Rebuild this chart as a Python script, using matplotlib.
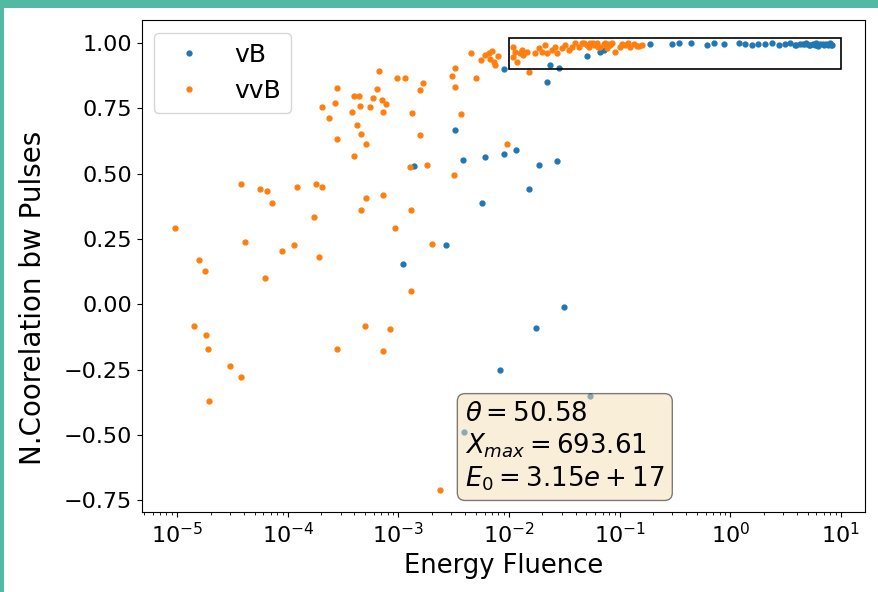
import matplotlib
matplotlib.use("Agg")
import matplotlib.pyplot as plt
import matplotlib.patches as patches

# correlation between pulses vs energy fluence, two polarisations
vb_fluence = [1.11e-3, 1.37e-3, 2.70e-3, 3.28e-3, 3.80e-3, 3.92e-3, 5.73e-3, 6.05e-3, 8.32e-3, 9.05e-3,
              9.05e-3, 0.0115, 0.0150, 0.0177, 0.0188, 0.0271, 0.0311, 0.0542, 0.0220, 0.0236,
              0.0281, 0.0506, 0.0668, 0.0715, 0.189, 0.297, 0.341, 0.442, 0.616, 0.706,
              0.883, 1.19, 1.37, 1.58, 1.79, 2.07, 2.40, 2.77, 3.14, 3.49,
              3.87, 4.29, 4.58, 4.87, 5.29, 5.62, 5.99, 6.51, 6.93, 7.38,
              8.01, 8.36, 3.95, 4.70, 5.10, 5.80, 6.20, 7.10, 7.70, 8.20]
vb_corr = [0.153, 0.529, 0.228, 0.667, 0.554, -0.490, 0.386, 0.564, -0.253, 0.574,
           0.900, 0.589, 0.440, -0.090, 0.534, 0.549, -0.011, -0.350, 0.852, 0.918,
           0.905, 0.950, 0.967, 0.973, 0.995, 0.995, 0.999, 0.999, 0.992, 0.999,
           0.996, 0.999, 0.995, 0.992, 0.998, 0.996, 0.999, 0.993, 0.997, 0.999,
           0.994, 0.998, 0.996, 0.999, 0.993, 0.997, 0.999, 0.995, 0.998, 0.996,
           0.999, 0.994, 0.992, 0.995, 0.991, 0.994, 0.990, 0.993, 0.991, 0.992]

vvb_fluence = [9.5e-6, 1.43e-5, 1.59e-5, 1.78e-5, 1.83e-5, 1.88e-5, 1.92e-5, 3.01e-5, 3.77e-5, 3.79e-5,
               4.06e-5, 5.62e-5, 6.47e-5, 6.28e-5, 7.18e-5, 8.95e-5, 1.14e-4, 1.22e-4, 1.73e-4, 1.80e-4,
               1.90e-4, 2.05e-4, 2.05e-4, 2.36e-4, 2.67e-4, 2.81e-4, 2.80e-4, 2.76e-4, 3.77e-4, 3.98e-4,
               4.36e-4, 3.98e-4, 4.22e-4, 4.45e-4, 4.58e-4, 4.58e-4, 4.98e-4, 5.08e-4, 5.12e-4, 5.48e-4,
               5.88e-4, 6.39e-4, 6.67e-4, 7.03e-4, 7.24e-4, 7.24e-4, 7.24e-4, 7.71e-4, 8.31e-4, 9.23e-4,
               9.69e-4, 1.15e-3, 1.26e-3, 1.31e-3, 1.31e-3, 1.34e-3, 1.57e-3, 1.57e-3, 1.67e-3, 1.80e-3,
               2.01e-3, 2.36e-3, 3.15e-3, 3.08e-3, 3.27e-3, 3.28e-3, 3.64e-3, 4.55e-3, 5.02e-3, 5.57e-3,
               6.10e-3, 6.63e-3, 7.00e-3, 6.76e-3, 7.35e-3, 7.87e-3, 7.50e-3, 9.57e-3, 0.0150,
               0.0109, 0.0114, 0.0109, 0.0118, 0.0126, 0.0135, 0.0131, 0.0145, 0.0173, 0.0185,
               0.0198, 0.0212, 0.0220, 0.0244, 0.0262, 0.0271, 0.0301, 0.0322, 0.0345, 0.0370,
               0.0397, 0.0425, 0.0456, 0.0506, 0.0542, 0.0581, 0.0623, 0.0668, 0.0715, 0.0767,
               0.0822, 0.0912, 0.101, 0.112, 0.125, 0.134, 0.143, 0.159,
               0.048, 0.053, 0.057, 0.064, 0.073, 0.080, 0.086, 0.105, 0.118, 0.150]
vvb_corr = [0.292, -0.083, 0.168, 0.128, -0.119, -0.173, -0.371, -0.238, -0.278, 0.460,
            0.238, 0.440, 0.435, 0.099, 0.386, 0.204, 0.228, 0.450, 0.335, 0.460,
            0.182, 0.450, 0.756, 0.712, 0.771, 0.827, 0.634, -0.173, 0.737, 0.797,
            0.797, 0.569, 0.687, 0.761, 0.652, 0.361, -0.083, 0.612, 0.405, 0.754,
            0.791, 0.824, 0.895, 0.782, 0.736, 0.420, -0.179, 0.766, -0.094, 0.292,
            0.865, 0.865, 0.524, 0.361, 0.049, 0.731, 0.648, 0.820, 0.846, 0.533,
            0.232, -0.712, 0.494, 0.875, 0.830, 0.905, 0.727, 0.964, 0.866, 0.935,
            0.954, 0.963, 0.971, 0.941, 0.928, 0.950, 0.916, 0.613, 0.890,
            0.986, 0.967, 0.948, 0.928, 0.961, 0.954, 0.973, 0.967, 0.961, 0.980,
            0.967, 0.992, 0.961, 0.973, 0.986, 0.961, 0.980, 0.992, 0.973, 0.986,
            0.999, 0.986, 0.999, 0.992, 0.999, 0.992, 0.999, 0.986, 0.996, 0.980,
            0.992, 0.967, 0.986, 0.992, 0.986, 0.996, 0.989, 0.992,
            1.0, 0.985, 0.999, 0.984, 1.0, 0.998, 1.0, 0.997, 1.0, 0.990]

theta = 50.58
xmax = 693.61
e0 = 3.15e+17

fig = plt.figure(figsize=(8.79, 5.92), dpi=100)
ax = fig.add_axes([0.1615, 0.135, 0.8225, 0.831])

ax.semilogx(vb_fluence, vb_corr, '.', ms=7, label='vB')
ax.semilogx(vvb_fluence, vvb_corr, '.', ms=7, label='vvB')

# region where both polarisations converge
ax.add_patch(patches.Rectangle((0.01, 0.9), 9.99, 0.12, fill=False,
                               edgecolor='black', lw=1.2, zorder=3))

ax.set_xlim(4.8e-6, 16.5)
ax.set_ylim(-0.796, 1.088)
ax.set_xlabel('Energy Fluence', fontsize=18.5)
ax.set_ylabel('N.Coorelation bw Pulses', fontsize=20)
ax.yaxis.set_label_coords(-0.132, 0.435)
ax.tick_params(labelsize=16)
ax.legend(loc='upper left', fontsize=18)

info = '\n'.join([r'$\theta=%.2f$' % theta,
                  r'$X_{max}=%.2f$' % xmax,
                  r'$E_0=%.2fe+%d$' % (e0 / 1e17, 17)])
ax.text(0.447, 0.226, info, transform=ax.transAxes, fontsize=18.7, va='top',
        bbox=dict(boxstyle='round', facecolor='wheat', alpha=0.5), zorder=4)

# teal frame strips along top and left
fig.add_artist(patches.Rectangle((0, 1 - 8 / 592), 1, 8 / 592, transform=fig.transFigure,
                                 color='#53b9a3', lw=0))
fig.add_artist(patches.Rectangle((0, 0), 4 / 879, 1, transform=fig.transFigure,
                                 color='#53b9a3', lw=0))

fig.savefig('out.png', dpi=100)
